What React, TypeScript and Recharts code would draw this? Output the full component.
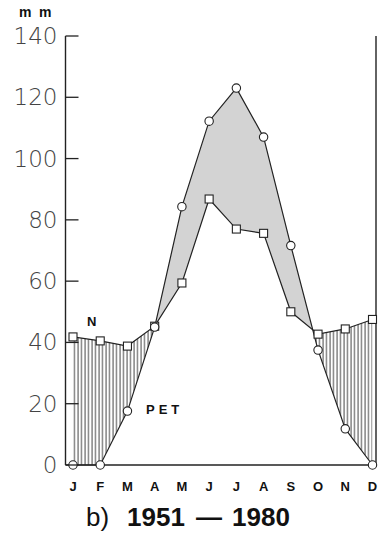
import React from "react";
import { ComposedChart, Area, Line, XAxis, YAxis } from "recharts";

const months = ["J", "F", "M", "A", "M", "J", "J", "A", "S", "O", "N", "D"];
// N = precipitation (squares), PET = potential evapotranspiration (circles), mm
const precipitation = [41.8, 40.5, 38.8, 45.3, 59.4, 86.8, 77.0, 75.6, 50.0, 42.7, 44.4, 47.5];
const pet = [0, 0, 17.6, 45.0, 84.3, 112.2, 123.0, 107.0, 71.6, 37.5, 11.8, 0];
const yTicks = [0, 20, 40, 60, 80, 100, 120, 140];

const data = months.map((m, i) => ({
  key: `${m}${i}`,
  month: m,
  n: precipitation[i],
  pet: pet[i],
}));

const INK = "#222";
const SANS = "Liberation Sans, Arial";

const LeftTick = ({ x, y, payload }: any) => (
  <g>
    <line x1={x} y1={y} x2={x + 13} y2={y} stroke={INK} strokeWidth={1.3} />
    <text
      x={x - 8}
      y={y}
      dy={8}
      textAnchor="end"
      fontFamily="DejaVu Sans"
      fontWeight={200}
      fontSize={23}
      fill="#444"
    >
      {payload.value}
    </text>
  </g>
);

const RightTick = ({ x, y }: any) => (
  <line x1={x} y1={y} x2={x + 11} y2={y} stroke={INK} strokeWidth={1.3} />
);

const MonthTick = ({ x, y, payload }: any) => (
  <text
    x={x}
    y={y + 24}
    textAnchor="middle"
    fontFamily={SANS}
    fontWeight="bold"
    fontSize={13}
    fill="#111"
  >
    {months[payload.index] ?? payload.value}
  </text>
);

const SquareDot = ({ cx, cy }: any) => (
  <rect x={cx - 4} y={cy - 4} width={8} height={8} fill="#fff" stroke={INK} strokeWidth={1.1} />
);

// circle marker; the first one also defines the clip regions above / below the PET line
const CircleDot = ({ cx, cy, index, points }: any) => {
  let defs = null;
  if (index === 0 && points && points.length) {
    const pts = points.map((p: any) => `${p.x},${p.y}`).join(" ");
    const x0 = points[0].x;
    const x1 = points[points.length - 1].x;
    defs = (
      <defs>
        <clipPath id="belowPet">
          <polygon points={`${pts} ${x1},5000 ${x0},5000`} />
        </clipPath>
        <clipPath id="abovePet">
          <polygon points={`${pts} ${x1},-5000 ${x0},-5000`} />
        </clipPath>
      </defs>
    );
  }
  return (
    <g>
      {defs}
      <circle cx={cx} cy={cy} r={4.2} fill="#fff" stroke={INK} strokeWidth={1.1} />
    </g>
  );
};

const label = (left: number, top: number, size: number, extra: any = {}) => ({
  position: "absolute" as const,
  left,
  top,
  fontFamily: SANS,
  fontWeight: "bold",
  fontSize: size,
  lineHeight: `${size}px`,
  color: "#111",
  whiteSpace: "pre" as const,
  ...extra,
});

export default function App() {
  return (
    <div style={{ position: "relative", width: 387, height: 538, background: "#fff" }}>
      <style>{`
        body { margin: 0; }
        .gray-fill { clip-path: url(#belowPet); }
        .hatch-fill { clip-path: url(#abovePet); }
      `}</style>
      <ComposedChart
        width={387}
        height={538}
        data={data}
        margin={{ top: 36, right: 0, bottom: 43, left: 0 }}
      >
        <defs>
          <pattern id="vhatch" patternUnits="userSpaceOnUse" width={3.5} height={10}>
            <rect width={3.5} height={10} fill="#fff" />
            <line x1={1} y1={0} x2={1} y2={10} stroke="#333" strokeWidth={0.9} />
          </pattern>
        </defs>
        <XAxis
          dataKey="key"
          scale="point"
          padding={{ left: 7.5, right: 3.5 }}
          height={30}
          tickLine={false}
          tickSize={0}
          axisLine={{ stroke: INK, strokeWidth: 1.4 }}
          tick={<MonthTick />}
          interval={0}
        />
        <YAxis
          yAxisId="left"
          domain={[0, 140]}
          ticks={yTicks}
          width={65.5}
          tickSize={0}
          tickMargin={0}
          tickLine={false}
          axisLine={{ stroke: INK, strokeWidth: 1.4 }}
          tick={<LeftTick />}
        />
        <YAxis
          yAxisId="right"
          orientation="right"
          domain={[0, 140]}
          ticks={yTicks}
          width={11}
          tickSize={0}
          tickMargin={0}
          tickLine={false}
          axisLine={{ stroke: INK, strokeWidth: 1.4 }}
          tick={<RightTick />}
        />
        <Area
          yAxisId="left"
          className="gray-fill"
          dataKey={(d: any) => [d.n, d.pet]}
          type="linear"
          stroke="none"
          fill="#d3d3d3"
          fillOpacity={1}
          isAnimationActive={false}
        />
        <Area
          yAxisId="left"
          className="hatch-fill"
          dataKey={(d: any) => [d.n, d.pet]}
          type="linear"
          stroke="none"
          fill="url(#vhatch)"
          fillOpacity={1}
          isAnimationActive={false}
        />
        <Line
          yAxisId="left"
          dataKey="n"
          type="linear"
          stroke={INK}
          strokeWidth={1.2}
          dot={<SquareDot />}
          isAnimationActive={false}
        />
        <Line
          yAxisId="left"
          dataKey="pet"
          type="linear"
          stroke={INK}
          strokeWidth={1.2}
          dot={<CircleDot />}
          isAnimationActive={false}
        />
      </ComposedChart>
      <div style={label(19, 5, 14)}>m</div>
      <div style={label(39, 5, 14)}>m</div>
      <div style={label(87, 315, 13)}>N</div>
      <div style={label(146, 403, 13, { letterSpacing: 4 })}>PET</div>
      <div style={label(86, 504, 26, { fontWeight: "normal" })}>b)</div>
      <div style={label(127, 504, 26)}>1951</div>
      <div style={label(196, 504, 26)}>—</div>
      <div style={label(232, 504, 26)}>1980</div>
    </div>
  );
}
